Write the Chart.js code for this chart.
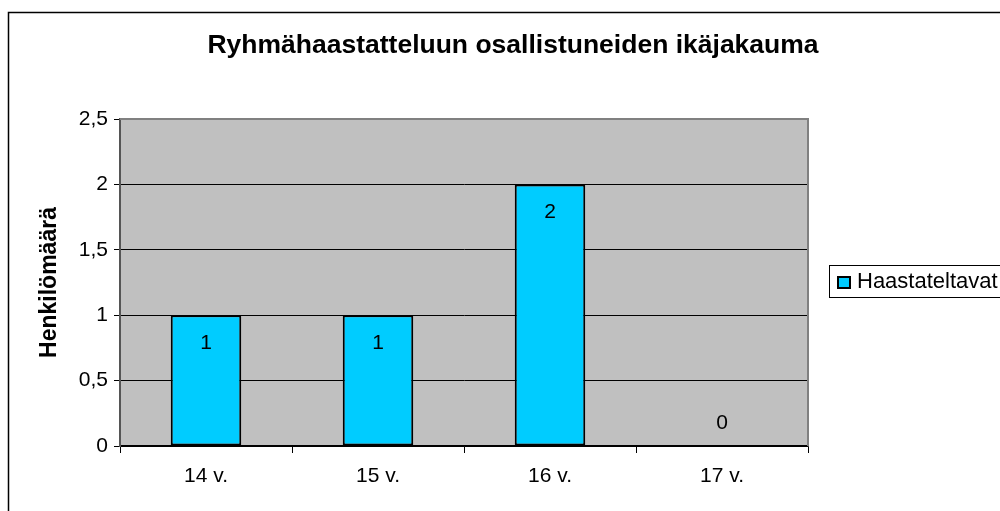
<!DOCTYPE html>
<html>
<head>
<meta charset="utf-8">
<script src="https://cdn.jsdelivr.net/npm/chart.js@4.4.0/dist/chart.umd.min.js"></script>
<style>
  html, body { margin: 0; padding: 0; background: #fff; }
  #wrap { width: 1000px; height: 511px; position: relative; }
</style>
</head>
<body>
<div id="wrap"><canvas id="ageChart" width="1000" height="511"></canvas></div>
<script>
// Chart data
const categories = ['14 v.', '15 v.', '16 v.', '17 v.'];
const participants = [1, 1, 2, 0];
const seriesName = 'Haastateltavat';
const chartTitle = 'Ryhmähaastatteluun osallistuneiden ikäjakauma';
const yAxisTitle = 'Henkilömäärä';

const FONT = 'Liberation Sans, Arial, sans-serif';
const BAR_COLOR = '#00ccff';

// Gray plot background, plot border, title, outer frame and the custom legend
const frameAndLegend = {
    id: 'frameAndLegend',
    beforeDraw(chart) {
        const { ctx, chartArea: a } = chart;
        ctx.save();
        ctx.fillStyle = '#c0c0c0';
        ctx.fillRect(a.left, a.top, a.right - a.left, a.bottom - a.top);
        ctx.restore();
    },
    afterDraw(chart) {
        const { ctx, chartArea: a } = chart;
        ctx.save();
        // plot area border (top/right gray)
        ctx.strokeStyle = '#808080';
        ctx.lineWidth = 2;
        ctx.beginPath();
        ctx.moveTo(a.left, a.top);
        ctx.lineTo(a.right, a.top);
        ctx.lineTo(a.right, a.bottom);
        ctx.stroke();

        // title
        ctx.fillStyle = '#000';
        ctx.font = 'bold 26.5px ' + FONT;
        ctx.textAlign = 'center';
        ctx.textBaseline = 'middle';
        ctx.fillText(chartTitle, 513, 46);

        // outer chart frame
        ctx.strokeStyle = '#000';
        ctx.lineWidth = 1.5;
        ctx.strokeRect(8.5, 12.5, 1100, 1100);

        // legend
        ctx.lineWidth = 1;
        ctx.strokeRect(829.5, 265.5, 200, 32);
        ctx.fillStyle = BAR_COLOR;
        ctx.fillRect(838, 277, 12, 11);
        ctx.lineWidth = 2;
        ctx.strokeRect(838, 277, 12, 11);
        ctx.fillStyle = '#000';
        ctx.font = '22px ' + FONT;
        ctx.textBaseline = 'middle';
        ctx.textAlign = 'left';
        ctx.fillText(seriesName, 857, 282);
        ctx.restore();
    }
};

// Value labels inside the bar top (or above the base for zero)
const valueLabels = {
    id: 'valueLabels',
    afterDatasetsDraw(chart) {
        const { ctx } = chart;
        const meta = chart.getDatasetMeta(0);
        ctx.save();
        ctx.fillStyle = '#000';
        ctx.font = '21px ' + FONT;
        ctx.textAlign = 'center';
        ctx.textBaseline = 'middle';
        meta.data.forEach((bar, i) => {
            const v = participants[i];
            const y = v > 0 ? bar.y + 28 : bar.base - 23;
            ctx.fillText(String(v), bar.x, y);
        });
        ctx.restore();
    }
};

new Chart(document.getElementById('ageChart').getContext('2d'), {
    type: 'bar',
    data: {
        labels: categories,
        datasets: [{
            label: seriesName,
            data: participants,
            backgroundColor: BAR_COLOR,
            borderColor: '#000',
            borderWidth: 2,
            borderSkipped: false,
            barPercentage: 0.41,
            categoryPercentage: 1.0
        }]
    },
    options: {
        responsive: false,
        animation: false,
        layout: { padding: { left: 0, top: 119, right: 192, bottom: 0 } },
        plugins: {
            legend: { display: false },
            tooltip: { enabled: false },
            title: { display: false }
        },
        scales: {
            x: {
                grid: {
                    offset: true,
                    drawOnChartArea: false,
                    tickLength: 7,
                    color: '#000',
                    tickColor: '#000'
                },
                border: { color: '#000', width: 1.5 },
                ticks: { color: '#000', font: { family: FONT, size: 21 }, padding: 11 },
                afterFit(scale) { scale.height = 65; }
            },
            y: {
                min: 0,
                max: 2.5,
                ticks: {
                    stepSize: 0.5,
                    color: '#000',
                    font: { family: FONT, size: 21 },
                    padding: 6,
                    callback: (v) => String(v).replace('.', ',')
                },
                grid: { color: '#000', tickLength: 6, tickColor: '#000', lineWidth: 1 },
                border: { color: '#555', width: 2 },
                title: {
                    display: true,
                    text: yAxisTitle,
                    color: '#000',
                    font: { family: FONT, size: 23, weight: 'bold' },
                    padding: { top: 36, bottom: 0 }
                },
                afterFit(scale) { scale.width = 120; }
            }
        }
    },
    plugins: [frameAndLegend, valueLabels]
});
</script>
</body>
</html>
